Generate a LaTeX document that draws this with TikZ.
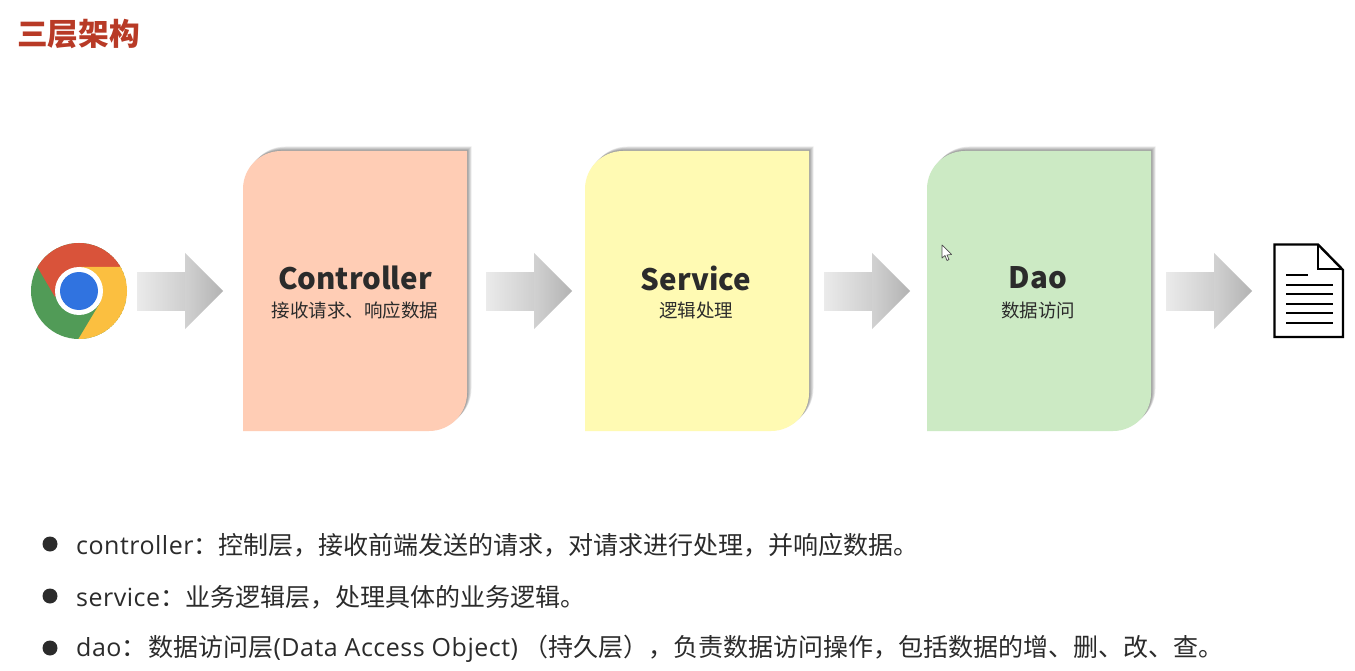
\documentclass[tikz,border=0pt]{standalone}
\usepackage{fontspec}
\setmainfont{Noto Sans CJK SC}
\newfontfamily\latinf[LetterSpace=2]{Open Sans}
\newcommand{\lat}[1]{{\latinf #1}}
\definecolor{titlered}{HTML}{B83A26}
\definecolor{ink}{HTML}{2B2B2B}
\definecolor{boxa}{HTML}{FFCDB5}
\definecolor{boxb}{HTML}{FFFAB3}
\definecolor{boxc}{HTML}{CCEAC4}
\definecolor{cred}{HTML}{D9533A}
\definecolor{cgreen}{HTML}{519B57}
\definecolor{cyellow}{HTML}{FBBF40}
\definecolor{cblue}{HTML}{3073E0}
\tikzset{
  x=1pt,y=-1pt,
  maintitle/.style={font=\fontsize{29.5}{36}\selectfont\bfseries,text=ink,anchor=center,inner sep=0},
  subtitle/.style={font=\fontsize{18.5}{22}\selectfont,text=ink,anchor=center,inner sep=0},
  bullettext/.style={font=\fontsize{25}{30}\selectfont,text=ink,anchor=west,inner sep=0},
  bulletdot/.style={circle,fill=ink,minimum size=15pt,inner sep=0},
  docline/.style={line width=2pt,black},
  docedge/.style={line width=2.4pt,black,line join=miter},
}
\newcommand{\boxpath}[3]{% x, dx, dy
  (#1+#2,431+#3) -- (#1+#2,189+#3) arc[start angle=180,end angle=270,radius=38] -- (#1+224+#2,151+#3) -- (#1+224+#2,393+#3) arc[start angle=0,end angle=90,radius=38] -- cycle
}
\newcommand{\tierbox}[2]{%
  \foreach \d in {4.5,3.8,3.1,2.4,1.7,1}{\fill[black,opacity=.07] \boxpath{#1}{\d}{-\d};}
  \fill[#2] \boxpath{#1}{0}{0};
}
\newcommand{\blockarrow}[1]{%
  \shade[left color=black!8,right color=black!19] (#1,272) rectangle (#1+48,310);
  \shade[left color=black!18,right color=black!30] (#1+48,253) -- (#1+86,291) -- (#1+48,329) -- cycle;
}
\begin{document}
\begin{tikzpicture}
\useasboundingbox (0,0) rectangle (1355,671);
\fill[white] (0,0) rectangle (1355,671);
\node[font=\fontsize{30.7}{36}\selectfont\bfseries,text=titlered,anchor=west,inner sep=0] (title) at (17,34) {三层架构};
% boxes
\tierbox{243}{boxa}
\tierbox{585}{boxb}
\tierbox{927}{boxc}
\node[maintitle] (t1) at (355,278) {Controller};
\node[subtitle] (s1) at (355,310) {接收请求、响应数据};
\node[maintitle] (t2) at (696,278) {Service};
\node[subtitle] (s2) at (696,310) {逻辑处理};
\node[maintitle] (t3) at (1038,278) {Dao};
\node[subtitle] (s3) at (1038,310) {数据访问};
% arrows
\blockarrow{137}
\blockarrow{486}
\blockarrow{824}
\blockarrow{1166}
% chrome
\coordinate (cc) at (79,291);
\begin{scope}
\clip (cc) circle (48);
\fill[cgreen] (cc) circle (48);
\fill[cred] (55,297) -- (37.4,267) -- (20,267) -- (20,230) -- (135,230) -- (135,267) -- (79,267) -- cycle;
\fill[cyellow] (79,267) -- (135,267) -- (135,350) -- (73,348) -- (100,303) -- cycle;
\end{scope}
\fill[white] (cc) circle (24);
\fill[cblue] (cc) circle (19);
% document
\draw[docedge,fill=white] (1274.5,244.5) -- (1318,244.5) -- (1343,270) -- (1343,337) -- (1274.5,337) -- cycle;
\draw[docedge] (1318,244.5) -- (1318,269) -- (1343,269);
\draw[docline] (1286,275) -- (1308,275);
\draw[docline] (1286,285) -- (1333,285);
\draw[docline] (1286,294) -- (1333,294);
\draw[docline] (1286,303.5) -- (1333,303.5);
\draw[docline] (1286,313) -- (1333,313);
\draw[docline] (1286,322.5) -- (1333,322.5);
% cursor
\draw[black!70,fill=white,line width=.7pt,line join=round] (942,245) -- (942,258) -- (945,255.5) -- (947,260.5) -- (949,259.5) -- (947,255) -- (951.5,254.5) -- cycle;
% bullets
\node[bulletdot] (b1) at (50,544) {};
\node[bulletdot] (b2) at (50,596) {};
\node[bulletdot] (b3) at (50,648) {};
\node[bullettext] (l1) at (76,545) {\lat{controller}：控制层，接收前端发送的请求，对请求进行处理，并响应数据。};
\node[bullettext] (l2) at (76,597) {\lat{service}：业务逻辑层，处理具体的业务逻辑。};
\node[bullettext] (l3) at (76,649) {\lat{dao}：\kern2pt 数据访问层\lat{(Data Access Object)}\kern5pt（持久层），负责数据访问操作，包括数据的增、删、改、查。};
\end{tikzpicture}
\end{document}
